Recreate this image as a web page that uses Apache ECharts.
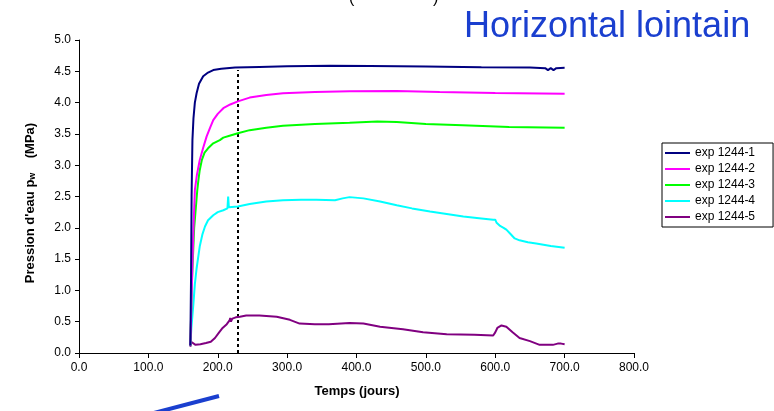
<!DOCTYPE html>
<html>
<head>
<meta charset="utf-8">
<script src="https://cdn.jsdelivr.net/npm/echarts@6/dist/echarts.min.js"></script>
<style>html,body{margin:0;padding:0;background:#fff}#c{width:774px;height:411px}</style>
</head>
<body>
<div id="c"></div>
<script>
var seriesNames = ['exp 1244-1','exp 1244-2','exp 1244-3','exp 1244-4','exp 1244-5'];
var xTicks = [0,100,200,300,400,500,600,700,800];
var yTicks = [0,0.5,1,1.5,2,2.5,3,3.5,4,4.5,5];
var dottedDay = 229;
var dottedTop = 4.52;

var exp1 = [[160.5,0.12],[161.5,1.2],[162.3,2.5],[163.5,3.4],[165,3.75],[167,4.0],[169.5,4.15],[173,4.3],[179,4.42],[186,4.48],[193.5,4.52],[205,4.54],[225,4.56],[260,4.57],[300,4.58],[362,4.59],[420,4.585],[500,4.575],[580,4.565],[650,4.56],[672,4.55],[676,4.52],[680,4.55],[684,4.52],[688,4.55],[700,4.555]];
var exp2 = [[160.5,0.12],[163,1.2],[165,2.0],[167,2.6],[170,2.85],[174,3.08],[179,3.28],[184,3.46],[189,3.6],[193.5,3.72],[200,3.82],[208,3.91],[218,3.97],[229,4.02],[246,4.08],[270,4.12],[294,4.15],[340,4.17],[390,4.18],[458,4.185],[520,4.17],[600,4.155],[700,4.14]];
var exp3 = [[160.5,0.12],[163,1.2],[166,2.0],[170.5,2.6],[172,2.75],[174,2.92],[177,3.08],[181,3.2],[186,3.27],[193.5,3.35],[203,3.4],[208,3.44],[217,3.47],[229,3.51],[246,3.56],[270,3.6],[294,3.63],[340,3.66],[390,3.68],[430,3.7],[458,3.69],[500,3.66],[553,3.64],[620,3.61],[700,3.6]];
var exp4 = [[160.5,0.12],[162,0.4],[163.5,0.6],[165,0.8],[167,1.1],[169.5,1.35],[174,1.7],[178,1.9],[181.6,2.02],[186,2.12],[193.5,2.2],[200,2.25],[208,2.28],[214,2.31],[215,2.5],[216,2.33],[218,2.33],[229,2.34],[246,2.38],[270,2.42],[294,2.44],[320,2.45],[342,2.45],[369,2.44],[380,2.47],[390,2.49],[410,2.47],[434,2.42],[458,2.36],[480,2.31],[506,2.26],[530,2.22],[554,2.18],[580,2.15],[597,2.13],[600,2.13],[602,2.08],[607,2.03],[612,2.0],[616,1.97],[622,1.9],[628,1.83],[635,1.8],[647,1.77],[659,1.75],[680,1.71],[700,1.68]];
var exp5 = [[160.5,0.1],[161.5,0.18],[163,0.15],[168,0.13],[175,0.14],[183,0.16],[190,0.18],[196,0.24],[202,0.33],[207,0.4],[213,0.46],[217,0.52],[218,0.56],[219,0.5],[221,0.55],[223,0.53],[226,0.57],[232,0.58],[241,0.6],[260,0.6],[285,0.58],[304,0.53],[318,0.47],[340,0.46],[360,0.46],[390,0.48],[410,0.47],[434,0.42],[467,0.38],[496,0.33],[530,0.3],[570,0.29],[597,0.28],[600,0.33],[603,0.4],[609,0.44],[616,0.42],[625,0.33],[635,0.24],[650,0.19],[664,0.13],[683,0.13],[690,0.15],[695,0.15],[700,0.14]];

var colors = ['#000080','#FF00FF','#00FF00','#00FFFF','#800080'];
var allData = [exp1, exp2, exp3, exp4, exp5];
var FONT = '"Liberation Sans", Arial, sans-serif';

var chart = echarts.init(document.getElementById('c'), null, {renderer:'canvas'});
var series = allData.map(function(d, i){
  var s = {
    name: seriesNames[i], type:'line', data:d, showSymbol:false, symbol:'none',
    smooth:false, lineStyle:{color:colors[i], width:2}, itemStyle:{color:colors[i]},
    z: 10 - i, animation:false
  };
  if (i === 0) {
    s.markLine = {
      silent:true, symbol:['none','none'], label:{show:false},
      lineStyle:{color:'#000', width:2, type:[3,3]},
      data:[[{coord:[dottedDay,0]},{coord:[dottedDay,dottedTop]}]]
    };
  }
  return s;
});

chart.setOption({
  animation:false,
  backgroundColor:'#fff',
  textStyle:{fontFamily:FONT},
  grid:{left:79, top:40, width:555, height:313, containLabel:false},
  xAxis:{
    type:'value', min:xTicks[0], max:xTicks[xTicks.length-1], interval:100,
    axisLine:{lineStyle:{color:'#000', width:1}},
    axisTick:{show:true, inside:false, length:5, lineStyle:{color:'#000'}},
    splitLine:{show:false},
    axisLabel:{color:'#000', fontSize:12, fontFamily:FONT, margin:9, formatter:function(v){return v.toFixed(1);}}
  },
  yAxis:{
    type:'value', min:yTicks[0], max:yTicks[yTicks.length-1], interval:0.5,
    axisLine:{show:true, lineStyle:{color:'#000', width:1}},
    axisTick:{show:true, inside:false, length:4, lineStyle:{color:'#000'}},
    splitLine:{show:false},
    axisLabel:{color:'#000', fontSize:12, fontFamily:FONT, margin:8, formatter:function(v){return v.toFixed(1);}}
  },
  legend:{
    data:seriesNames.map(function(n){return {name:n, icon:'rect'};}),
    orient:'vertical', left:662, top:143,
    itemWidth:25, itemHeight:2, itemGap:4, itemTextGap:5,
    padding:[4,18,4,3], borderColor:'#000', borderWidth:1,
    textStyle:{color:'#000', fontSize:12, fontFamily:FONT, lineHeight:12}
  },
  graphic:[
    {type:'text', left:464, top:9, style:{text:'Horizontal lointain', fill:'#1a3fcf', font:'36px "Liberation Sans", Arial, sans-serif'}},
    {type:'text', x:349, y:-9, style:{text:'(', fill:'#000', font:'16px "Liberation Sans", Arial, sans-serif'}},
    {type:'text', x:433, y:-9, style:{text:')', fill:'#000', font:'16px "Liberation Sans", Arial, sans-serif'}},
    {type:'text', x:357, y:391, style:{text:'Temps (jours)', fill:'#000', align:'center', verticalAlign:'middle', font:'bold 13px "Liberation Sans", Arial, sans-serif'}},
    {type:'text', x:30, y:203, rotation:Math.PI/2, style:{
      text:'{a|Pression d\'eau p}{s|w}{a|    (MPa)}', align:'center', verticalAlign:'middle',
      rich:{
        a:{fontSize:13, fontWeight:'bold', fontFamily:FONT, fill:'#000', lineHeight:16},
        s:{fontSize:9, fontWeight:'bold', fontFamily:FONT, fill:'#000', padding:[6,0,0,0], lineHeight:16}
      }
    }},
    {type:'line', shape:{x1:150, y1:414, x2:219, y2:396}, style:{stroke:'#1a3fcf', lineWidth:4}}
  ],
  series:series
});
</script>
</body>
</html>
